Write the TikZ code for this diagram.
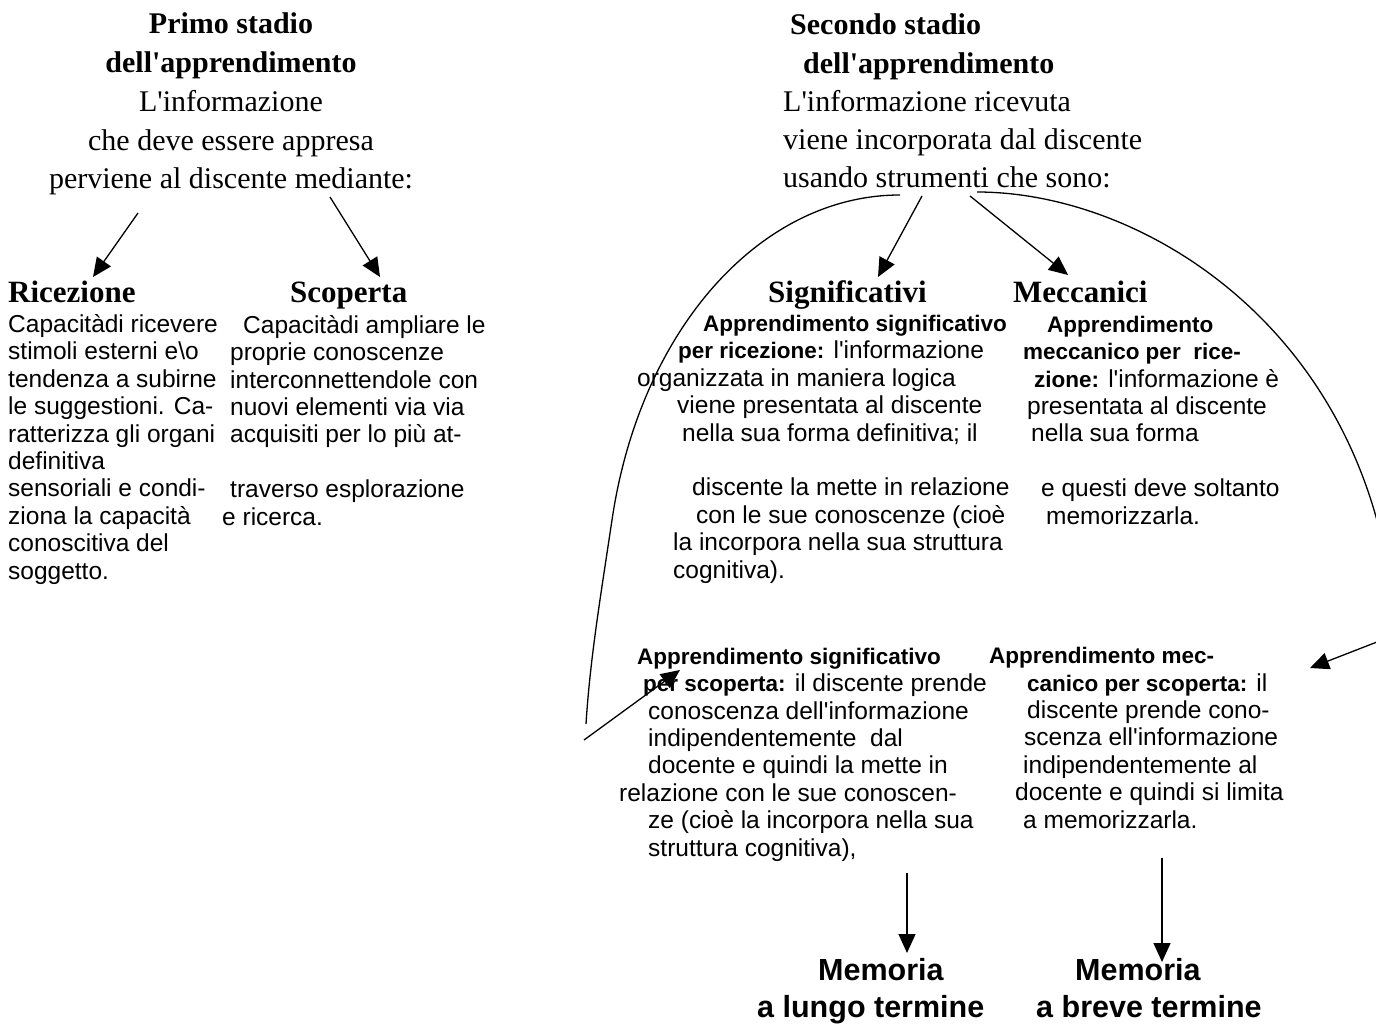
\documentclass[tikz,border=0pt]{standalone}
\usepackage{fontspec}
\setmainfont{Liberation Serif}[Ligatures=TeXOff]
\setsansfont{Liberation Sans}[Ligatures=TeXOff]
\usetikzlibrary{arrows.meta}
\newcommand{\neretto}[1]{{\fontsize{22.5}{27.4}\selectfont\bfseries #1}}

\begin{document}
\begin{tikzpicture}[x=1pt, y=-1pt,
    stadio/.style={inner sep=0pt, align=center, font=\fontsize{30}{38.75}\selectfont},
    stadiobis/.style={inner sep=0pt, align=left, anchor=base west, font=\fontsize{30}{38.3}\selectfont},
    tipo/.style={inner sep=0pt, anchor=base west, font=\fontsize{31}{31}\selectfont\bfseries},
    testo/.style={inner sep=0pt, align=left, anchor=base west, font=\sffamily\fontsize{24.5}{27.4}\selectfont},
    memoria/.style={inner sep=0pt, align=left, anchor=base west, font=\sffamily\bfseries\fontsize{30.5}{37}\selectfont},
    freccia/.style={line width=1.3pt, -{Triangle[length=19pt, width=17pt]}},
    arco/.style={line width=1.3pt}]
\path[use as bounding box, fill=white] (0,0) rectangle (1376,1024);

\node[stadio, anchor=base] (primo) at (231,189) {\textbf{Primo stadio}\\ \textbf{dell'apprendimento}\\ L'informazione\\ che deve essere appresa\\ perviene al discente mediante:};
\node[stadiobis] (secondo) at (783,188) {\hspace*{7pt}\textbf{Secondo stadio}\\ \hspace*{20pt}\textbf{dell'apprendimento}\\ L'informazione ricevuta\\ viene incorporata dal discente\\ usando strumenti che sono:};

\node[tipo] (ric) at (8,303) {Ricezione};
\node[tipo] (scop) at (290,303) {Scoperta};
\node[tipo] (sig) at (768,302) {Significativi};
\node[tipo] (mecc) at (1013,302) {Meccanici};

\node[testo] (ricT) at (8,579) {Capacitàdi ricevere\\ stimoli esterni e\textbackslash o\\ tendenza a subirne\\ le suggestioni. Ca-\\ ratterizza gli organi\\ definitiva\\ sensoriali e condi-\\ ziona la capacità\\ conoscitiva del\\ soggetto.};
\node[testo] (scopT) at (222,525) {\hspace*{21pt}Capacitàdi ampliare le\\ \hspace*{8pt}proprie conoscenze\\ \hspace*{8pt}interconnettendole con\\ \hspace*{8pt}nuovi elementi via via\\ \hspace*{8pt}acquisiti per lo più at-\\ \mbox{}\\ \hspace*{8pt}traverso esplorazione\\ e ricerca.};

\node[testo] (sigric) at (637,578) {\hspace*{66pt}\neretto{Apprendimento significativo}\\ \hspace*{41pt}\neretto{per ricezione:} l'informazione\\ organizzata in maniera logica\\ \hspace*{40pt}viene presentata al discente\\ \hspace*{45pt}nella sua forma definitiva; il\\ \mbox{}\\ \hspace*{55pt}discente la mette in relazione\\ \hspace*{59pt}con le sue conoscenze (cioè\\ \hspace*{36pt}la incorpora nella sua struttura\\ \hspace*{36pt}cognitiva).};
\node[testo] (meccric) at (1023,524) {\hspace*{24pt}\neretto{Apprendimento}\\ \neretto{meccanico per\ \ rice-}\\ \hspace*{11pt}\neretto{zione:} l'informazione è\\ \hspace*{4pt}presentata al discente\\ \hspace*{8pt}nella sua forma\\ \mbox{}\\ \hspace*{18pt}e questi deve soltanto\\ \hspace*{23pt}memorizzarla.};

\node[testo] (sigscop) at (619,856) {\hspace*{18pt}\neretto{Apprendimento significativo}\\ \hspace*{24pt}\neretto{per scoperta:} il discente prende\\ \hspace*{29pt}conoscenza dell'informazione\\ \hspace*{29pt}indipendentemente\ \ dal\\ \hspace*{29pt}docente e quindi la mette in\\ relazione con le sue conoscen-\\ \hspace*{29pt}ze (cioè la incorpora nella sua\\ \hspace*{29pt}struttura cognitiva),};
\node[testo] (meccscop) at (989,828) {\neretto{Apprendimento mec-}\\ \hspace*{38pt}\neretto{canico per scoperta:} il\\ \hspace*{38pt}discente prende cono-\\ \hspace*{35pt}scenza ell'informazione\\ \hspace*{34pt}indipendentemente al\\ \hspace*{26pt}docente e quindi si limita\\ \hspace*{34pt}a memorizzarla.};

\node[memoria] (lungo) at (757,1017) {\hspace*{61pt}Memoria\\ a lungo termine};
\node[memoria] (breve) at (1036,1017) {\hspace*{39pt}Memoria\\ a breve termine};

\coordinate (pL) at (138,213);
\coordinate (ric-in) at (93,277);
\coordinate (pR) at (330,197);
\coordinate (scop-in) at (380,277);
\coordinate (sL) at (922,196);
\coordinate (sig-in) at (878,277);
\coordinate (sR) at (970,196);
\coordinate (mecc-in) at (1068,275);
\coordinate (arcL) at (900,195);
\coordinate (arcLmid) at (612,520);
\coordinate (arcLend) at (586,724);
\coordinate (scopL) at (584,740);
\coordinate (sigscop-in) at (680,670);
\coordinate (arcR) at (977,192);
\coordinate (arcRend) at (1395,635);
\coordinate (meccscop-in) at (1310,668);
\coordinate (lungo-out) at (907,873);
\coordinate (lungo-in) at (907,953);
\coordinate (breve-out) at (1162,858);
\coordinate (breve-in) at (1162,962);

\draw[freccia] (pL) -- (ric-in);
\draw[freccia] (pR) -- (scop-in);
\draw[freccia] (sL) -- (sig-in);
\draw[freccia] (sR) -- (mecc-in);
\draw[arco] (arcL) .. controls (760,195) and (640,330) .. (arcLmid) .. controls (600,600) and (590,660) .. (arcLend);
\draw[freccia] (scopL) -- (sigscop-in);
\draw[arco] (arcR) .. controls (1150,192) and (1380,340) .. (arcRend);
\draw[freccia] (arcRend) -- (meccscop-in);
\draw[freccia] (lungo-out) -- (lungo-in);
\draw[freccia] (breve-out) -- (breve-in);
\end{tikzpicture}
\end{document}
